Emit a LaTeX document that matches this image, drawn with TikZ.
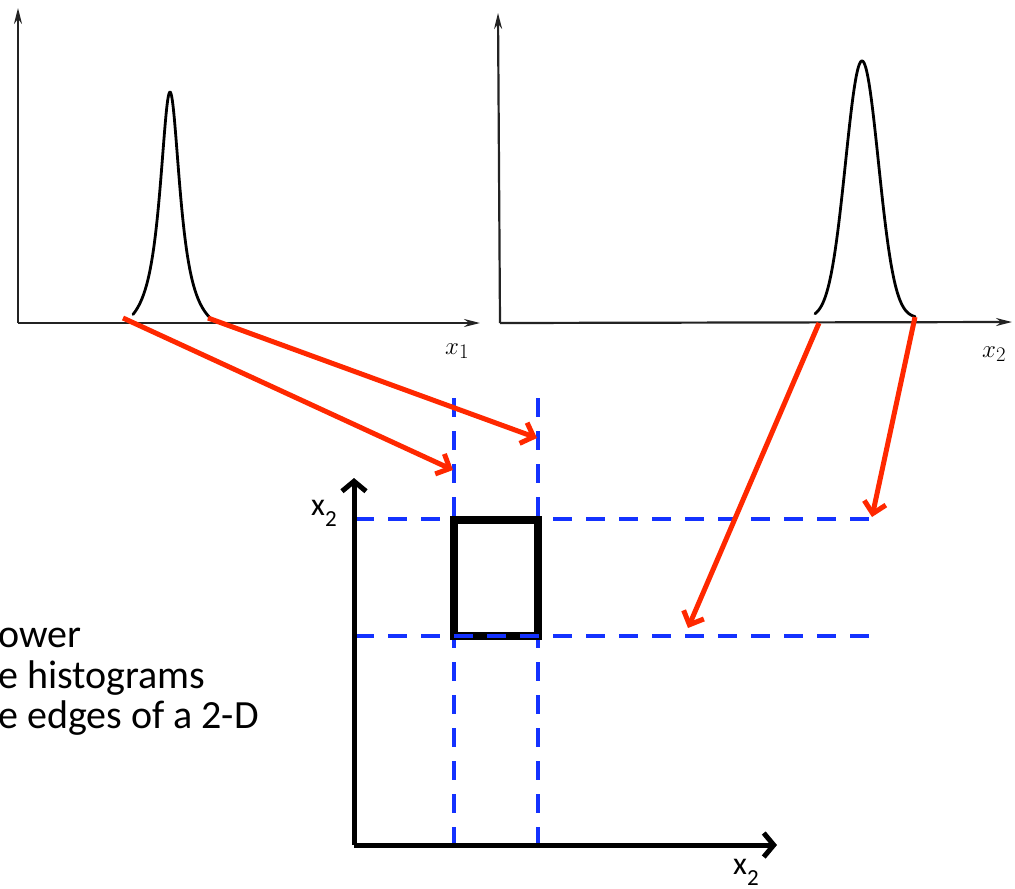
\documentclass[tikz,border=0pt]{standalone}
\usepackage{fontspec}
\setmainfont{Carlito}
\usetikzlibrary{arrows.meta}
\definecolor{redarr}{RGB}{255,40,0}
\definecolor{bluedash}{RGB}{20,50,255}
\definecolor{scan}{RGB}{35,35,35}
\begin{document}
\begin{tikzpicture}[x=1pt,y=-1pt,
  histaxis/.style={draw=scan, line width=2.2pt, -{Stealth[length=16pt,width=8pt]}},
  peak/.style={draw=black, line width=2.8pt, line cap=round},
  redarrow/.style={draw=redarr, line width=5pt, -{Straight Barb[length=11pt,width=22pt]}},
  guide/.style={draw=bluedash, line width=4.5pt, dash pattern=on 19pt off 14pt},
  axistwo/.style={draw=black, line width=5pt, -{Straight Barb[length=10pt,width=24pt]}},
  boxnode/.style={draw=black, line width=7.5pt, inner sep=0pt, minimum width=84pt, minimum height=116pt},
  bodytext/.style={anchor=base west, inner sep=0pt, font=\fontsize{40}{40}\selectfont},
  axlabel/.style={anchor=base west, inner sep=0pt, font=\fontsize{32}{32}\selectfont},
  histlabel/.style={anchor=base west, inner sep=0pt, font=\fontsize{30}{30}\selectfont},
]
\useasboundingbox (0,0) rectangle (1015,889);

% ---------- histogram 1 ----------
\coordinate (oa) at (18,323);
\coordinate (ya) at (18,8);
\coordinate (xa) at (480,323);
\draw[histaxis] (oa) -- (ya);
\draw[histaxis] (oa) -- (xa);
\draw[peak] plot[domain=-37:42, samples=160]
  ({170+\x},{318-226*((1/(1+(\x/12.5)^2))-0.088)/0.912});
\node[histlabel] (la) at (445,354) {$x_1$};

% ---------- histogram 2 ----------
\coordinate (ob) at (500,323);
\coordinate (yb) at (498,13);
\coordinate (xb) at (1012,322);
\draw[histaxis] (ob) -- (yb);
\draw[histaxis] (ob) -- (xb);
\draw[peak] plot[domain=-47:53, samples=160]
  ({862+\x},{318-257*exp(-(\x*\x)/540)});
\node[histlabel] (lb) at (982,357) {$x_2$};

% ---------- 2-D plot ----------
\coordinate (vat) at (454,398);
\coordinate (vab) at (454,845);
\coordinate (vbt) at (538,398);
\coordinate (vbb) at (538,845);
\coordinate (hal) at (355,519);
\coordinate (har) at (882,519);
\coordinate (hbl) at (355,636);
\coordinate (hbr) at (882,636);
\draw[guide] (vat) -- (vab);
\draw[guide] (vbt) -- (vbb);
\draw[guide] (hal) -- (har);

\node[boxnode] (box) at (496,578) {};

\draw[guide] (hbl) -- (hbr);

\coordinate (oc) at (354,845);
\coordinate (yc) at (354,478);
\coordinate (xc) at (777,845);
\draw[axistwo] (oc) -- (yc);
\draw[axistwo] (oc) -- (xc);
\node[axlabel] (lyc) at (311,515) {x\raisebox{-11pt}{\fontsize{23}{23}\selectfont 2}};
\node[axlabel] (lxc) at (733,874) {x\raisebox{-11pt}{\fontsize{23}{23}\selectfont 2}};

% ---------- red arrows ----------
\coordinate (ras) at (123,318);
\coordinate (rae) at (453,470);
\coordinate (rbs) at (208,318);
\coordinate (rbe) at (537,438);
\coordinate (rcs) at (819,323);
\coordinate (rce) at (688,628);
\coordinate (rds) at (915,317);
\coordinate (rde) at (872,517);
\draw[redarrow] (ras) -- (rae);
\draw[redarrow] (rbs) -- (rbe);
\draw[redarrow] (rcs) -- (rce);
\draw[redarrow] (rds) -- (rde);

% ---------- text ----------
\node[bodytext] (ta) at (-2,647) {ower};
\node[bodytext] (tb) at (-2,688) {e histograms};
\node[bodytext] (tc) at (-2,728) {e edges of a 2-D};
\end{tikzpicture}
\end{document}
